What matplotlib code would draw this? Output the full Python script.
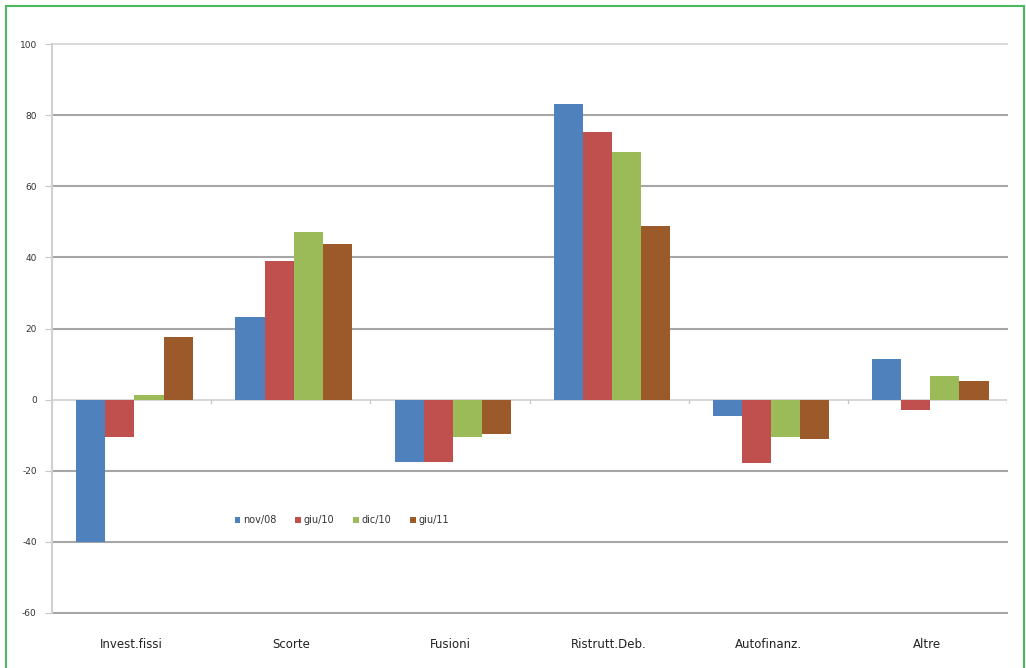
import matplotlib.pyplot as plt
import numpy as np
from matplotlib.patches import Rectangle

categories = ["Invest.fissi", "Scorte", "Fusioni", "Ristrutt.Deb.", "Autofinanz.", "Altre"]
series = ["nov/08", "giu/10", "dic/10", "giu/11"]
nov08 = [-40.0, 23.1, -17.6, 83.1, -4.5, 11.3]
giu10 = [-10.6, 39.0, -17.6, 75.3, -17.8, -2.9]
dic10 = [1.4, 47.1, -10.4, 69.7, -10.4, 6.6]
giu11 = [17.5, 43.7, -9.6, 48.7, -11.2, 5.1]
yticks = [-60, -40, -20, 0, 20, 40, 60, 80, 100]

values = [nov08, giu10, dic10, giu11]
colors = ["#4F81BD", "#C0504D", "#9BBB59", "#9C5A2A"]

fig = plt.figure(figsize=(10.26, 6.68), dpi=100)
ax = fig.add_axes([52 / 1026, 55 / 668, 955 / 1026, 569 / 668])

x = np.arange(len(categories))
w = 0.183
for i, (vals, c) in enumerate(zip(values, colors)):
    ax.bar(x + (i - 1.4) * w, vals, width=w, color=c, label=series[i], zorder=3)

# horizontal gridlines, the zero line is the light category axis
for t in yticks:
    if t == 0:
        ax.axhline(0, color="#D0D0D0", lw=1.2, zorder=2)
    elif t == 100:
        ax.axhline(t, color="#DADADA", lw=1.5, zorder=1, clip_on=False)
    else:
        ax.axhline(t, color="#A6A6A6", lw=1.5, zorder=1, clip_on=False)

# small ticks on the zero axis between categories
for b in np.arange(len(categories) + 1) - 0.5:
    ax.plot([b, b], [0, -0.9], color="#C8C8C8", lw=1, zorder=2)

ax.set_xlim(-0.5, len(categories) - 0.5)
ax.set_ylim(-60, 100)
ax.set_yticks(yticks)
ax.set_yticklabels([str(t) for t in yticks], fontsize=6.5, color="#333333")
ax.set_xticks(x)
ax.set_xticklabels(categories, fontsize=8.5, color="#222222")
ax.tick_params(axis="x", length=0, pad=18)
ax.tick_params(axis="y", length=5, color="#C8C8C8", pad=6)

for s in ["top", "right", "bottom"]:
    ax.spines[s].set_visible(False)
ax.spines["left"].set_color("#D0D0D0")
ax.spines["left"].set_linewidth(1.5)

ax.legend(loc="center left", bbox_to_anchor=(0.182, 0.163), ncol=4, frameon=False,
          fontsize=7, handlelength=0.6, handleheight=0.6, handletextpad=0.3,
          columnspacing=1.9, labelcolor="#333333")

fig.add_artist(Rectangle((6 / 1026, -0.05), 1018 / 1026, 1.05 - 6 / 668,
                         transform=fig.transFigure, fill=False,
                         edgecolor="#4CB860", lw=1.5))

fig.savefig("out.png", dpi=100)
